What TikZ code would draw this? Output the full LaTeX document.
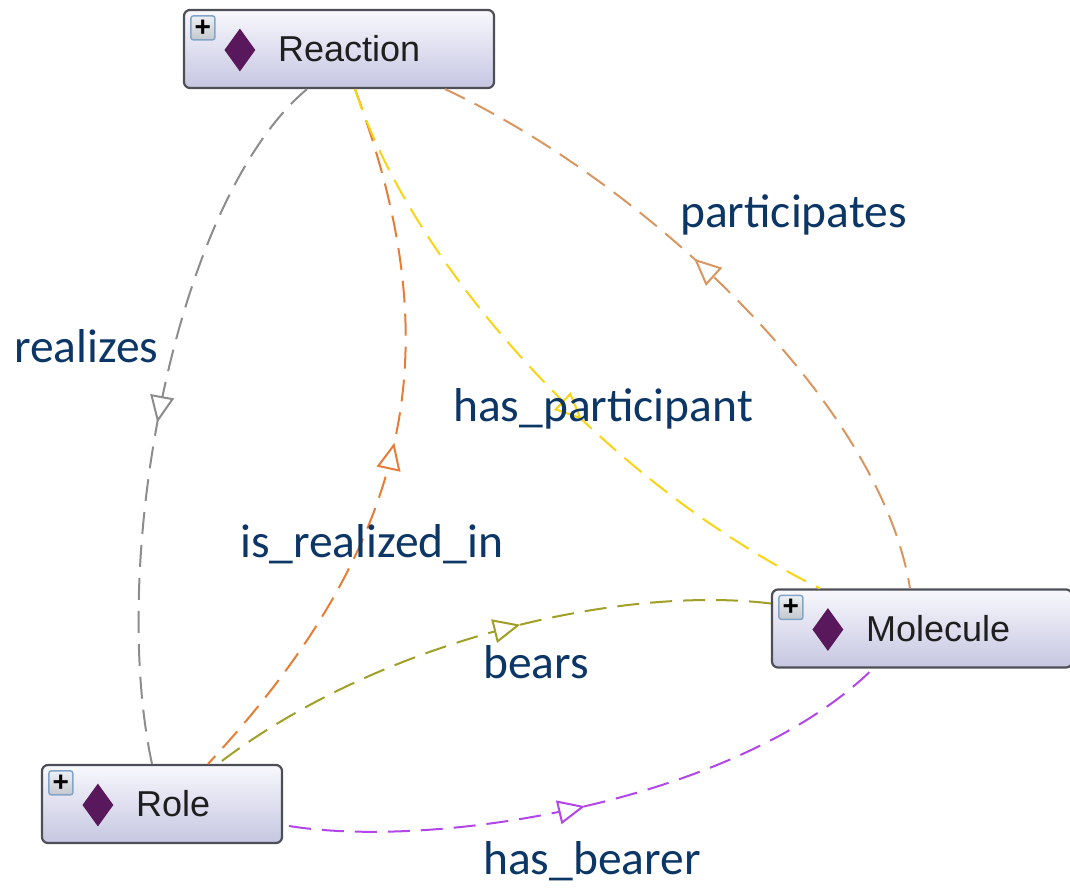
\documentclass[tikz,border=0pt]{standalone}
\usepackage{fontspec}
\setmainfont{Liberation Sans}
\newfontfamily\lblfont{Carlito}
\usetikzlibrary{arrows.meta,decorations.markings,shapes.geometric}
\definecolor{lblcol}{RGB}{12,54,102}
\definecolor{boxtop}{RGB}{248,248,253}
\definecolor{boxbot}{RGB}{198,198,226}
\definecolor{boxedge}{RGB}{78,78,86}
\definecolor{diacol}{RGB}{90,24,92}
\definecolor{plusedge}{RGB}{130,165,200}
\definecolor{plustop}{RGB}{236,240,244}
\definecolor{plusbot}{RGB}{196,200,206}
\definecolor{cgray}{RGB}{140,140,140}
\definecolor{corange}{RGB}{232,124,52}
\definecolor{ctan}{RGB}{218,150,96}
\definecolor{cyellow}{RGB}{248,212,20}
\definecolor{colive}{RGB}{160,160,40}
\definecolor{cpurple}{RGB}{178,70,232}
\begin{document}
\begin{tikzpicture}[x=1pt,y=-1pt,
  cls/.style={draw=boxedge, line width=2.2pt, rounded corners=6pt, top color=boxtop, bottom color=boxbot, minimum height=78pt, inner sep=0pt},
  clstext/.style={anchor=west, font=\fontsize{36}{40}\selectfont, text=black!88, inner sep=0pt},
  diam/.style={diamond, fill=diacol, minimum width=31pt, minimum height=43pt, inner sep=0pt},
  plusbox/.style={draw=plusedge, line width=1.5pt, rounded corners=2.5pt, top color=plustop, bottom color=plusbot, minimum size=24pt, inner sep=0pt, font=\bfseries\fontsize{28}{28}\selectfont},
  lbl/.style={anchor=base west, font=\lblfont\fontsize{47.5}{50}\selectfont, text=lblcol, inner sep=0pt},
  rel/.style={line width=2pt, dash pattern=on 22pt off 11pt},
  tipfwd/.style={postaction={decorate}, decoration={markings, mark=at position #1 with {\arrow{Triangle[length=27pt,width=24pt,fill=white]}}}},
  tipbwd/.style={postaction={decorate}, decoration={markings, mark=at position #1 with {\arrowreversed{Triangle[length=27pt,width=24pt,fill=white]}}}}
]
\useasboundingbox (0,0) rectangle (1070,887);

\coordinate (rc) at (339,49);
\coordinate (mc) at (922,628.5);
\coordinate (oc) at (162,804);

% class boxes
\node[cls, minimum width=310pt] (reaction) at (rc) {};
\node[cls, minimum width=300pt] (molecule) at (mc) {};
\node[cls, minimum width=240pt] (role) at (oc) {};

% connectors
\draw[rel, cgray, tipfwd=0.52] ([xshift=-32pt]reaction.south) .. controls (175,200) and (108,560) .. ([xshift=-10pt]role.north);
\draw[rel, corange, tipbwd=0.49] ([xshift=16pt]reaction.south) .. controls (440,320) and (435,520) .. ([xshift=46pt]role.north);
\draw[rel, cyellow, tipfwd=0.58] ([xshift=16pt]reaction.south) .. controls (410,260) and (600,480) .. ([xshift=-102pt]molecule.north);
\draw[rel, ctan, tipbwd=0.43] ([xshift=106pt]reaction.south) .. controls (640,180) and (880,400) .. ([xshift=-12pt]molecule.north);
\draw[rel, colive, tipbwd=0.43] ([yshift=25pt]molecule.west) .. controls (620,585) and (380,640) .. ([xshift=56pt]role.north);
\draw[rel, cpurple, tipfwd=0.48] ([yshift=-22pt,xshift=6pt]role.east) .. controls (440,850) and (740,800) .. ([xshift=-49pt]molecule.south);

% box contents
\foreach \n/\t in {reaction/Reaction, molecule/Molecule, role/Role}{
  \node[plusbox] (\n plus) at ([xshift=20pt,yshift=-19pt]\n.north west) {+};
  \node[diam] (\n dia) at ([xshift=57pt,yshift=-1pt]\n.west) {};
  \node[clstext] (\n txt) at ([xshift=95pt]\n.west) {\t};
}

% labels
\node[lbl] (lparticipates) at (680,227) {participates};
\node[lbl] (lrealizes) at (14,362) {realizes};
\node[lbl] (lhasparticipant) at (453,421) {has\_participant};
\node[lbl] (lisrealizedin) at (240,557) {is\_realized\_in};
\node[lbl] (lbears) at (483,678) {bears};
\node[lbl] (lhasbearer) at (483,874) {has\_bearer};
\end{tikzpicture}
\end{document}
